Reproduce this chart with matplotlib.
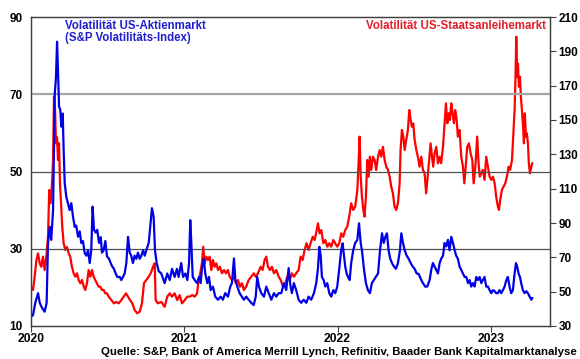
import matplotlib
matplotlib.use('Agg')
import matplotlib.pyplot as plt

plt.rcParams['font.family'] = ['Liberation Sans', 'DejaVu Sans']

# VIX (linke Achse), Zeit in Dezimaljahren
vix_t = [2020.000, 2020.013, 2020.028, 2020.046, 2020.057, 2020.072, 2020.089, 2020.102, 2020.111, 2020.122,
         2020.132, 2020.144, 2020.155, 2020.163, 2020.170, 2020.176, 2020.183, 2020.191, 2020.198, 2020.207,
         2020.213, 2020.220, 2020.230, 2020.241, 2020.252, 2020.263, 2020.274, 2020.285, 2020.295, 2020.307,
         2020.318, 2020.328, 2020.339, 2020.350, 2020.361, 2020.372, 2020.383, 2020.393, 2020.402, 2020.411,
         2020.422, 2020.432, 2020.444, 2020.455, 2020.463, 2020.474, 2020.485, 2020.496, 2020.509, 2020.520,
         2020.530, 2020.541, 2020.552, 2020.563, 2020.579, 2020.589, 2020.600, 2020.611, 2020.622, 2020.633,
         2020.644, 2020.654, 2020.665, 2020.676, 2020.687, 2020.698, 2020.709, 2020.720, 2020.731, 2020.742,
         2020.752, 2020.768, 2020.778, 2020.789, 2020.800, 2020.809, 2020.820, 2020.833, 2020.850, 2020.872,
         2020.889, 2020.905, 2020.920, 2020.937, 2020.952, 2020.963, 2020.980, 2020.992, 2021.007, 2021.020,
         2021.031, 2021.039, 2021.046, 2021.055, 2021.068, 2021.083, 2021.096, 2021.107, 2021.115, 2021.127,
         2021.137, 2021.150, 2021.161, 2021.172, 2021.187, 2021.202, 2021.220, 2021.237, 2021.252, 2021.267,
         2021.285, 2021.300, 2021.311, 2021.324, 2021.333, 2021.346, 2021.361, 2021.376, 2021.389, 2021.404,
         2021.420, 2021.437, 2021.453, 2021.466, 2021.476, 2021.487, 2021.502, 2021.520, 2021.535, 2021.551,
         2021.568, 2021.585, 2021.600, 2021.616, 2021.633, 2021.650, 2021.665, 2021.681, 2021.692, 2021.702,
         2021.715, 2021.730, 2021.746, 2021.763, 2021.779, 2021.796, 2021.811, 2021.828, 2021.846, 2021.861,
         2021.872, 2021.881, 2021.890, 2021.898, 2021.909, 2021.920, 2021.933, 2021.946, 2021.959, 2021.972,
         2021.985, 2021.998, 2022.011, 2022.024, 2022.033, 2022.042, 2022.050, 2022.059, 2022.068, 2022.079,
         2022.089, 2022.102, 2022.115, 2022.129, 2022.140, 2022.151, 2022.159, 2022.172, 2022.185, 2022.198,
         2022.211, 2022.224, 2022.237, 2022.250, 2022.264, 2022.277, 2022.290, 2022.301, 2022.311, 2022.322,
         2022.333, 2022.344, 2022.355, 2022.368, 2022.381, 2022.394, 2022.407, 2022.416, 2022.427, 2022.438,
         2022.451, 2022.464, 2022.477, 2022.490, 2022.503, 2022.516, 2022.529, 2022.546, 2022.557, 2022.572,
         2022.585, 2022.601, 2022.611, 2022.622, 2022.633, 2022.644, 2022.655, 2022.666, 2022.676, 2022.688,
         2022.698, 2022.709, 2022.720, 2022.731, 2022.742, 2022.753, 2022.764, 2022.774, 2022.785, 2022.796,
         2022.807, 2022.818, 2022.829, 2022.840, 2022.851, 2022.862, 2022.872, 2022.883, 2022.894, 2022.905,
         2022.916, 2022.927, 2022.938, 2022.948, 2022.959, 2022.970, 2022.981, 2022.992, 2023.003, 2023.014,
         2023.025, 2023.035, 2023.046, 2023.057, 2023.068, 2023.079, 2023.090, 2023.101, 2023.111, 2023.122,
         2023.133, 2023.144, 2023.155, 2023.164, 2023.172, 2023.181, 2023.190, 2023.198, 2023.209, 2023.220,
         2023.231, 2023.242, 2023.253, 2023.264, 2023.270]
vix = [12.4, 12.8, 16.0, 18.5, 16.0, 14.7, 13.7, 16.0, 31.5, 35.7,
       32.3, 40.0, 70.0, 74.5, 83.6, 76.3, 66.8, 66.0, 61.6, 65.0,
       55.6, 47.0, 43.5, 41.8, 40.0, 41.8, 38.3, 35.7, 36.0, 33.1,
       34.5, 31.5, 32.0, 28.9, 28.2, 29.6, 26.3, 29.6, 40.9, 34.9,
       34.2, 34.9, 31.5, 33.0, 29.0, 29.6, 32.0, 28.0, 27.4, 26.3,
       25.4, 24.8, 23.6, 22.7, 22.7, 21.9, 22.7, 23.6, 26.3, 33.1,
       29.0, 28.2, 26.3, 28.2, 27.4, 29.0, 27.4, 28.2, 29.6, 28.2,
       29.6, 31.5, 35.7, 40.5, 38.3, 29.6, 26.3, 24.2, 23.6, 21.1,
       23.6, 21.9, 24.8, 22.7, 24.8, 22.7, 26.3, 22.7, 23.6, 21.9,
       26.3, 37.4, 31.5, 22.7, 21.9, 21.1, 22.7, 21.1, 24.8, 27.4,
       23.6, 21.1, 22.7, 19.3, 20.2, 17.6, 16.8, 17.6, 16.8, 18.5,
       17.6, 20.2, 21.1, 27.5, 21.9, 20.2, 18.5, 17.6, 16.8, 17.6,
       16.8, 16.0, 15.4, 17.6, 22.7, 20.2, 18.5, 17.6, 20.2, 18.5,
       16.8, 18.5, 17.6, 18.5, 18.5, 21.1, 19.3, 25.0, 20.6, 18.5,
       21.1, 19.3, 16.8, 16.0, 16.8, 16.0, 17.6, 16.8, 18.5, 21.1,
       24.8, 30.5, 28.2, 22.7, 21.9, 20.2, 21.1, 18.5, 17.6, 19.3,
       18.5, 20.2, 24.8, 29.7, 31.4, 28.2, 25.4, 23.6, 22.7, 21.9,
       26.3, 29.6, 31.5, 32.3, 36.6, 31.5, 29.6, 24.8, 21.1, 19.3,
       18.5, 21.1, 21.9, 22.7, 23.6, 29.6, 34.0, 31.5, 33.0, 34.0,
       29.6, 27.4, 26.3, 25.4, 24.8, 26.3, 29.6, 34.0, 31.5, 29.6,
       28.2, 27.4, 26.3, 25.4, 24.8, 23.6, 23.5, 21.9, 21.1, 20.2,
       20.2, 21.9, 24.5, 26.3, 25.4, 24.5, 23.6, 26.3, 27.4, 28.2,
       31.5, 30.6, 32.3, 29.6, 33.1, 31.5, 29.6, 28.2, 27.4, 25.4,
       24.5, 23.6, 22.7, 22.7, 21.1, 21.9, 20.2, 21.1, 20.2, 22.7,
       21.9, 22.7, 21.1, 21.9, 22.7, 20.2, 20.2, 19.3, 18.5, 19.3,
       19.0, 18.5, 18.5, 19.3, 18.5, 19.3, 20.2, 21.9, 22.7, 20.2,
       18.5, 19.3, 23.6, 26.3, 25.4, 23.6, 22.7, 21.1, 19.3, 18.5,
       19.0, 18.5, 17.6, 16.8, 17.2]

# MOVE (rechte Achse)
move_t = [2020.000, 2020.013, 2020.024, 2020.035, 2020.046, 2020.057, 2020.067, 2020.078, 2020.089, 2020.100,
          2020.111, 2020.119, 2020.128, 2020.137, 2020.144, 2020.150, 2020.157, 2020.163, 2020.170, 2020.176,
          2020.183, 2020.189, 2020.198, 2020.204, 2020.213, 2020.224, 2020.235, 2020.246, 2020.256, 2020.267,
          2020.278, 2020.289, 2020.300, 2020.311, 2020.322, 2020.333, 2020.344, 2020.354, 2020.365, 2020.376,
          2020.387, 2020.398, 2020.409, 2020.419, 2020.430, 2020.441, 2020.452, 2020.463, 2020.474, 2020.485,
          2020.496, 2020.507, 2020.524, 2020.541, 2020.556, 2020.572, 2020.589, 2020.605, 2020.620, 2020.633,
          2020.646, 2020.661, 2020.676, 2020.693, 2020.709, 2020.724, 2020.737, 2020.752, 2020.768, 2020.781,
          2020.796, 2020.807, 2020.813, 2020.828, 2020.850, 2020.872, 2020.889, 2020.905, 2020.920, 2020.937,
          2020.954, 2020.970, 2020.985, 2021.003, 2021.020, 2021.035, 2021.052, 2021.068, 2021.083, 2021.094,
          2021.104, 2021.115, 2021.124, 2021.133, 2021.144, 2021.155, 2021.166, 2021.176, 2021.187, 2021.198,
          2021.209, 2021.220, 2021.233, 2021.246, 2021.259, 2021.272, 2021.285, 2021.296, 2021.311, 2021.324,
          2021.337, 2021.350, 2021.363, 2021.376, 2021.389, 2021.404, 2021.420, 2021.437, 2021.453, 2021.466,
          2021.481, 2021.498, 2021.511, 2021.524, 2021.535, 2021.546, 2021.559, 2021.572, 2021.585, 2021.600,
          2021.616, 2021.629, 2021.644, 2021.659, 2021.672, 2021.689, 2021.702, 2021.715, 2021.730, 2021.746,
          2021.759, 2021.772, 2021.785, 2021.798, 2021.811, 2021.824, 2021.838, 2021.851, 2021.864, 2021.872,
          2021.883, 2021.894, 2021.907, 2021.920, 2021.933, 2021.946, 2021.959, 2021.972, 2021.985, 2021.998,
          2022.011, 2022.024, 2022.037, 2022.050, 2022.063, 2022.076, 2022.089, 2022.102, 2022.115, 2022.129,
          2022.138, 2022.144, 2022.151, 2022.159, 2022.168, 2022.176, 2022.185, 2022.194, 2022.203, 2022.211,
          2022.220, 2022.231, 2022.242, 2022.252, 2022.264, 2022.275, 2022.285, 2022.296, 2022.307, 2022.318,
          2022.329, 2022.340, 2022.350, 2022.361, 2022.372, 2022.383, 2022.394, 2022.405, 2022.411, 2022.420,
          2022.429, 2022.438, 2022.448, 2022.459, 2022.468, 2022.477, 2022.485, 2022.494, 2022.503, 2022.514,
          2022.524, 2022.535, 2022.546, 2022.557, 2022.568, 2022.578, 2022.590, 2022.601, 2022.607, 2022.616,
          2022.624, 2022.633, 2022.644, 2022.655, 2022.666, 2022.676, 2022.688, 2022.698, 2022.707, 2022.716,
          2022.725, 2022.733, 2022.742, 2022.751, 2022.759, 2022.768, 2022.777, 2022.785, 2022.796, 2022.807,
          2022.818, 2022.827, 2022.836, 2022.846, 2022.857, 2022.868, 2022.879, 2022.888, 2022.899, 2022.911,
          2022.920, 2022.928, 2022.937, 2022.948, 2022.959, 2022.970, 2022.981, 2022.992, 2023.003, 2023.014,
          2023.025, 2023.035, 2023.046, 2023.053, 2023.061, 2023.072, 2023.083, 2023.094, 2023.105, 2023.116,
          2023.126, 2023.138, 2023.146, 2023.155, 2023.161, 2023.166, 2023.172, 2023.177, 2023.183, 2023.190,
          2023.196, 2023.203, 2023.209, 2023.216, 2023.222, 2023.229, 2023.235, 2023.242, 2023.248, 2023.255,
          2023.264, 2023.270]
move = [52.9, 51.0, 58.7, 68.4, 72.3, 66.5, 64.5, 70.4, 62.6, 70.4,
        82.0, 109.2, 101.5, 113.0, 126.7, 163.6, 155.8, 136.4, 140.0, 126.7,
        136.4, 113.0, 97.6, 87.8, 78.2, 74.3, 76.0, 72.3, 70.4, 64.5,
        60.7, 58.7, 60.7, 56.8, 54.9, 56.8, 52.9, 51.0, 54.9, 62.6,
        58.7, 62.6, 58.7, 56.8, 54.9, 52.9, 52.9, 51.0, 51.0, 49.0,
        49.0, 47.1, 45.1, 43.2, 44.0, 43.2, 45.1, 47.1, 49.0, 47.1,
        45.1, 43.2, 39.3, 37.4, 38.3, 43.2, 54.9, 56.8, 58.7, 60.7,
        64.5, 66.5, 45.1, 43.2, 44.0, 41.2, 47.1, 49.0, 47.1, 49.0,
        45.1, 48.0, 43.2, 45.1, 47.1, 47.1, 48.0, 47.1, 49.0, 56.8,
        60.7, 66.5, 76.2, 66.5, 70.4, 68.4, 70.4, 62.6, 68.4, 64.5,
        66.5, 62.6, 64.5, 60.7, 62.6, 60.7, 62.6, 58.7, 56.8, 58.7,
        54.9, 56.8, 52.9, 54.9, 51.0, 52.9, 56.8, 58.7, 60.7, 58.7,
        60.7, 64.5, 62.6, 68.4, 70.4, 64.5, 62.6, 64.5, 60.7, 62.6,
        58.7, 56.8, 52.9, 54.9, 58.7, 56.8, 60.7, 58.7, 60.7, 62.6,
        70.4, 68.4, 74.3, 78.2, 74.3, 78.2, 82.0, 80.1, 85.9, 89.8,
        84.0, 85.9, 78.2, 80.1, 76.2, 78.2, 76.2, 80.1, 78.2, 76.2,
        78.2, 84.0, 82.0, 85.9, 87.8, 93.7, 101.5, 97.6, 99.5, 109.2,
        126.7, 140.3, 117.0, 105.3, 97.6, 93.7, 105.3, 126.7, 117.0, 128.6,
        120.9, 128.6, 126.7, 120.9, 128.6, 132.5, 128.6, 134.4, 126.7, 122.8,
        120.9, 117.0, 111.2, 107.3, 99.5, 97.6, 101.5, 113.0, 132.5, 144.2,
        140.3, 132.5, 138.4, 144.2, 155.8, 150.0, 146.1, 148.0, 138.4, 132.5,
        128.6, 122.8, 128.6, 120.9, 119.0, 107.3, 119.0, 130.6, 136.4, 128.6,
        122.8, 130.6, 134.4, 124.8, 128.6, 124.8, 134.4, 148.1, 159.7, 148.1,
        153.9, 150.0, 159.7, 153.9, 148.1, 155.8, 150.0, 140.3, 144.2, 128.6,
        122.8, 113.1, 122.8, 134.4, 136.4, 130.6, 126.7, 113.1, 122.8, 140.3,
        124.8, 117.0, 119.0, 120.9, 115.1, 128.6, 122.8, 117.0, 115.1, 117.0,
        113.1, 105.3, 99.5, 97.6, 103.4, 109.2, 111.2, 113.1, 117.0, 122.8,
        120.9, 126.7, 140.3, 155.8, 175.2, 198.5, 175.2, 183.0, 169.4, 175.2,
        163.6, 155.8, 148.1, 136.4, 153.9, 140.3, 142.2, 136.4, 124.8, 119.0,
        122.8, 124.8]

years = [2020, 2021, 2022, 2023]
left_ticks = [10, 30, 50, 70, 90]
right_ticks = [30, 50, 70, 90, 110, 130, 150, 170, 190, 210]

blue = '#0000e6'
red = '#ff0000'
axis_col = '#404040'

fig = plt.figure(figsize=(5.8, 3.59), dpi=100)
ax = fig.add_axes([31/580, 1-326/359, 519/580, 309/359])
ax2 = ax.twinx()

ax2.plot(move_t, move, color=red, lw=1.6, solid_joinstyle='round')
ax.plot(vix_t, vix, color=blue, lw=1.6, solid_joinstyle='round')
ax.set_zorder(ax2.get_zorder() + 1)
ax.patch.set_visible(False)

ax.set_xlim(2020.0, 2023.386)
ax.set_ylim(10, 90)
ax2.set_ylim(30, 210)

# Gitterlinien
ax.axhline(70, color='#a6a6a6', lw=1.6, zorder=0)
ax.axhline(50, color='#505050', lw=0.9, zorder=0)
ax.axhline(30, color='#505050', lw=0.9, zorder=0)

ax.set_xticks(years)
ax.set_xticklabels([str(y) for y in years], fontweight='bold', fontsize=8.7)
ax.set_yticks(left_ticks)
ax.set_yticklabels([str(v) for v in left_ticks], fontweight='bold', fontsize=8.5)
ax2.set_yticks(right_ticks)
ax2.set_yticklabels([str(v) for v in right_ticks], fontweight='bold', fontsize=8.5)

ax.tick_params(axis='y', length=0, pad=6)
ax.tick_params(axis='x', length=4, direction='out', color=axis_col, pad=1)
ax2.tick_params(axis='y', length=4, direction='out', color=axis_col, pad=2)

for a in (ax, ax2):
    for s in a.spines.values():
        s.set_color(axis_col)
        s.set_linewidth(0.9)

fig.text(65/580, 1-20/359, 'Volatilität US-Aktienmarkt\n(S&P Volatilitäts-Index)',
         color='#1f1fcf', fontsize=8.3, fontweight='bold', va='top', ha='left', linespacing=1.0)
fig.text(546/580, 1-20/359, 'Volatilität US-Staatsanleihemarkt',
         color='#e0202a', fontsize=8.3, fontweight='bold', va='top', ha='right')
fig.text(577/580, 1-352/359,
         'Quelle: S&P, Bank of America Merrill Lynch, Refinitiv, Baader Bank Kapitalmarktanalyse',
         fontsize=8.2, fontweight='bold', va='center', ha='right')

fig.savefig('out.png', dpi=100)
